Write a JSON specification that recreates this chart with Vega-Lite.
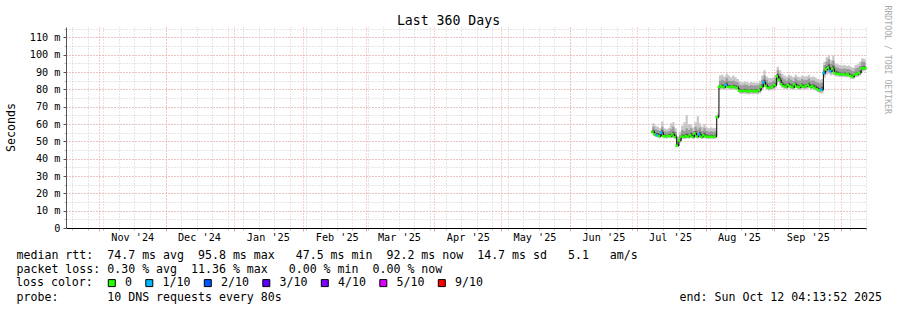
{
  "$schema": "https://vega.github.io/schema/vega-lite/v6.json",
  "width": 800,
  "height": 201,
  "autosize": {"type": "none"},
  "padding": {"left": 66, "top": 27, "right": 31, "bottom": 82},
  "background": "white",
  "config": {
    "view": {"stroke": null},
    "font": "DejaVu Sans Mono",
    "axis": {
      "labelFont": "DejaVu Sans Mono",
      "titleFont": "DejaVu Sans Mono",
      "labelColor": "#000000",
      "titleColor": "#000000",
      "titleFontWeight": "normal",
      "labelFontSize": 10.2,
      "titleFontSize": 11.6
    }
  },
  "resolve": {"axis": {"x": "independent", "y": "independent"}},
  "data": {
    "values": [
      {"t": "2025-07-08", "mn": 53.8, "p2": 54.5, "p4": 55.0, "md": 55.5, "p6": 56.5, "p8": 58.5, "mx": 60.5, "loss": "0"},
      {"t": "2025-07-09", "mn": 52.6, "p2": 53.2, "p4": 53.7, "md": 54.0, "p6": 55.0, "p8": 57.0, "mx": 59.0, "loss": "0"},
      {"t": "2025-07-10", "mn": 52.3, "p2": 52.9, "p4": 53.3, "md": 53.5, "p6": 54.8, "p8": 56.5, "mx": 58.5, "loss": "1/10"},
      {"t": "2025-07-11", "mn": 51.8, "p2": 52.4, "p4": 52.8, "md": 53.0, "p6": 54.2, "p8": 56.0, "mx": 57.5, "loss": "0"},
      {"t": "2025-07-12", "mn": 52.5, "p2": 53.5, "p4": 54.5, "md": 55.0, "p6": 56.5, "p8": 58.5, "mx": 61.5, "loss": "1/10"},
      {"t": "2025-07-13", "mn": 51.8, "p2": 52.4, "p4": 52.8, "md": 53.0, "p6": 54.0, "p8": 55.8, "mx": 57.5, "loss": "0"},
      {"t": "2025-07-14", "mn": 51.6, "p2": 52.2, "p4": 52.6, "md": 52.8, "p6": 53.8, "p8": 55.5, "mx": 57.0, "loss": "0"},
      {"t": "2025-07-15", "mn": 51.9, "p2": 52.5, "p4": 53.0, "md": 53.2, "p6": 54.3, "p8": 56.0, "mx": 57.8, "loss": "0"},
      {"t": "2025-07-16", "mn": 51.8, "p2": 52.4, "p4": 52.8, "md": 53.0, "p6": 54.5, "p8": 57.0, "mx": 60.5, "loss": "0"},
      {"t": "2025-07-17", "mn": 52.3, "p2": 53.0, "p4": 53.6, "md": 54.0, "p6": 55.5, "p8": 58.5, "mx": 61.0, "loss": "0"},
      {"t": "2025-07-18", "mn": 51.2, "p2": 51.9, "p4": 52.3, "md": 52.5, "p6": 53.8, "p8": 55.5, "mx": 57.5, "loss": "0"},
      {"t": "2025-07-19", "mn": 47.0, "p2": 47.2, "p4": 47.4, "md": 47.5, "p6": 48.5, "p8": 50.5, "mx": 53.0, "loss": "0"},
      {"t": "2025-07-20", "mn": 49.0, "p2": 49.8, "p4": 50.2, "md": 50.5, "p6": 51.5, "p8": 53.5, "mx": 55.5, "loss": "0"},
      {"t": "2025-07-21", "mn": 51.5, "p2": 52.2, "p4": 52.6, "md": 52.8, "p6": 54.0, "p8": 56.5, "mx": 59.0, "loss": "0"},
      {"t": "2025-07-22", "mn": 51.4, "p2": 52.0, "p4": 52.4, "md": 52.6, "p6": 53.8, "p8": 56.0, "mx": 61.0, "loss": "0"},
      {"t": "2025-07-23", "mn": 51.7, "p2": 52.3, "p4": 52.8, "md": 53.0, "p6": 54.5, "p8": 57.5, "mx": 65.0, "loss": "0"},
      {"t": "2025-07-24", "mn": 51.5, "p2": 52.1, "p4": 52.5, "md": 52.7, "p6": 54.0, "p8": 56.5, "mx": 60.0, "loss": "0"},
      {"t": "2025-07-25", "mn": 51.9, "p2": 52.7, "p4": 53.2, "md": 53.5, "p6": 55.0, "p8": 57.5, "mx": 59.5, "loss": "0"},
      {"t": "2025-07-26", "mn": 51.4, "p2": 52.0, "p4": 52.4, "md": 52.6, "p6": 53.8, "p8": 55.8, "mx": 58.0, "loss": "0"},
      {"t": "2025-07-27", "mn": 52.2, "p2": 53.2, "p4": 54.0, "md": 54.5, "p6": 56.0, "p8": 58.5, "mx": 61.0, "loss": "0"},
      {"t": "2025-07-28", "mn": 51.5, "p2": 52.2, "p4": 52.6, "md": 52.8, "p6": 54.0, "p8": 57.0, "mx": 64.5, "loss": "0"},
      {"t": "2025-07-29", "mn": 52.0, "p2": 52.8, "p4": 53.6, "md": 54.0, "p6": 55.5, "p8": 58.0, "mx": 60.5, "loss": "1/10"},
      {"t": "2025-07-30", "mn": 51.4, "p2": 52.0, "p4": 52.4, "md": 52.6, "p6": 53.8, "p8": 56.0, "mx": 58.5, "loss": "0"},
      {"t": "2025-07-31", "mn": 51.8, "p2": 52.6, "p4": 53.2, "md": 53.5, "p6": 55.0, "p8": 57.5, "mx": 60.0, "loss": "0"},
      {"t": "2025-08-01", "mn": 51.5, "p2": 52.1, "p4": 52.6, "md": 52.8, "p6": 54.0, "p8": 56.0, "mx": 58.0, "loss": "0"},
      {"t": "2025-08-02", "mn": 51.4, "p2": 52.0, "p4": 52.4, "md": 52.6, "p6": 53.6, "p8": 55.5, "mx": 57.5, "loss": "0"},
      {"t": "2025-08-03", "mn": 51.5, "p2": 52.1, "p4": 52.5, "md": 52.7, "p6": 53.8, "p8": 55.8, "mx": 58.0, "loss": "0"},
      {"t": "2025-08-04", "mn": 51.4, "p2": 52.0, "p4": 52.4, "md": 52.6, "p6": 53.6, "p8": 55.5, "mx": 57.5, "loss": "0"},
      {"t": "2025-08-05", "mn": 51.5, "p2": 52.1, "p4": 52.6, "md": 52.8, "p6": 53.9, "p8": 55.8, "mx": 57.8, "loss": "0"},
      {"t": "2025-08-06", "mn": 63.0, "p2": 63.5, "p4": 63.8, "md": 64.0, "p6": 64.5, "p8": 65.0, "mx": 66.0, "loss": "0"},
      {"t": "2025-08-07", "mn": 80.0, "p2": 80.7, "p4": 81.2, "md": 81.5, "p6": 82.5, "p8": 85.0, "mx": 88.0, "loss": "0"},
      {"t": "2025-08-08", "mn": 80.2, "p2": 81.0, "p4": 81.5, "md": 81.8, "p6": 83.0, "p8": 85.5, "mx": 88.5, "loss": "0"},
      {"t": "2025-08-09", "mn": 79.8, "p2": 80.5, "p4": 81.0, "md": 81.2, "p6": 82.3, "p8": 84.8, "mx": 87.5, "loss": "0"},
      {"t": "2025-08-10", "mn": 80.5, "p2": 81.5, "p4": 82.0, "md": 82.5, "p6": 84.0, "p8": 86.5, "mx": 89.0, "loss": "1/10"},
      {"t": "2025-08-11", "mn": 80.0, "p2": 80.8, "p4": 81.2, "md": 81.5, "p6": 82.5, "p8": 85.0, "mx": 88.0, "loss": "0"},
      {"t": "2025-08-12", "mn": 79.8, "p2": 80.6, "p4": 81.0, "md": 81.3, "p6": 82.3, "p8": 84.8, "mx": 87.0, "loss": "0"},
      {"t": "2025-08-13", "mn": 80.0, "p2": 80.8, "p4": 81.3, "md": 81.6, "p6": 82.6, "p8": 85.0, "mx": 88.0, "loss": "0"},
      {"t": "2025-08-14", "mn": 79.8, "p2": 80.5, "p4": 81.0, "md": 81.2, "p6": 82.2, "p8": 84.5, "mx": 87.0, "loss": "0"},
      {"t": "2025-08-15", "mn": 79.5, "p2": 80.2, "p4": 80.6, "md": 80.8, "p6": 81.8, "p8": 84.0, "mx": 86.0, "loss": "0"},
      {"t": "2025-08-16", "mn": 77.5, "p2": 78.3, "p4": 78.9, "md": 79.2, "p6": 80.2, "p8": 82.5, "mx": 84.5, "loss": "0"},
      {"t": "2025-08-17", "mn": 77.3, "p2": 78.1, "p4": 78.7, "md": 79.0, "p6": 80.0, "p8": 82.3, "mx": 84.0, "loss": "0"},
      {"t": "2025-08-18", "mn": 77.5, "p2": 78.4, "p4": 79.0, "md": 79.3, "p6": 80.3, "p8": 82.8, "mx": 84.5, "loss": "0"},
      {"t": "2025-08-19", "mn": 77.2, "p2": 78.1, "p4": 78.7, "md": 79.0, "p6": 80.0, "p8": 82.5, "mx": 84.3, "loss": "0"},
      {"t": "2025-08-20", "mn": 77.0, "p2": 77.9, "p4": 78.5, "md": 78.8, "p6": 79.8, "p8": 82.0, "mx": 83.8, "loss": "0"},
      {"t": "2025-08-21", "mn": 77.4, "p2": 78.3, "p4": 78.9, "md": 79.2, "p6": 80.2, "p8": 82.5, "mx": 84.2, "loss": "0"},
      {"t": "2025-08-22", "mn": 77.2, "p2": 78.1, "p4": 78.7, "md": 79.0, "p6": 80.0, "p8": 82.3, "mx": 84.0, "loss": "0"},
      {"t": "2025-08-23", "mn": 77.3, "p2": 78.2, "p4": 78.8, "md": 79.1, "p6": 80.1, "p8": 82.4, "mx": 84.0, "loss": "0"},
      {"t": "2025-08-24", "mn": 77.1, "p2": 78.0, "p4": 78.6, "md": 78.9, "p6": 79.9, "p8": 82.2, "mx": 83.8, "loss": "0"},
      {"t": "2025-08-25", "mn": 77.6, "p2": 78.5, "p4": 79.1, "md": 79.5, "p6": 80.5, "p8": 83.0, "mx": 85.0, "loss": "0"},
      {"t": "2025-08-26", "mn": 79.5, "p2": 80.5, "p4": 81.1, "md": 81.5, "p6": 82.8, "p8": 85.5, "mx": 88.0, "loss": "0"},
      {"t": "2025-08-27", "mn": 81.5, "p2": 82.8, "p4": 83.6, "md": 84.0, "p6": 85.5, "p8": 88.0, "mx": 91.0, "loss": "1/10"},
      {"t": "2025-08-28", "mn": 80.3, "p2": 81.2, "p4": 81.7, "md": 82.0, "p6": 83.2, "p8": 85.5, "mx": 87.5, "loss": "0"},
      {"t": "2025-08-29", "mn": 79.3, "p2": 80.0, "p4": 80.5, "md": 80.8, "p6": 81.8, "p8": 84.0, "mx": 86.5, "loss": "0"},
      {"t": "2025-08-30", "mn": 79.5, "p2": 80.2, "p4": 80.7, "md": 81.0, "p6": 82.0, "p8": 84.2, "mx": 86.5, "loss": "0"},
      {"t": "2025-08-31", "mn": 79.8, "p2": 80.6, "p4": 81.2, "md": 81.5, "p6": 82.6, "p8": 85.0, "mx": 87.0, "loss": "0"},
      {"t": "2025-09-01", "mn": 80.5, "p2": 81.5, "p4": 82.1, "md": 82.5, "p6": 83.8, "p8": 86.5, "mx": 88.5, "loss": "0"},
      {"t": "2025-09-02", "mn": 84.0, "p2": 85.5, "p4": 86.8, "md": 87.5, "p6": 89.0, "p8": 91.0, "mx": 93.0, "loss": "0"},
      {"t": "2025-09-03", "mn": 83.0, "p2": 84.2, "p4": 85.0, "md": 85.5, "p6": 87.0, "p8": 89.0, "mx": 91.0, "loss": "0"},
      {"t": "2025-09-04", "mn": 81.0, "p2": 82.0, "p4": 82.6, "md": 83.0, "p6": 84.3, "p8": 86.8, "mx": 89.0, "loss": "0"},
      {"t": "2025-09-05", "mn": 80.3, "p2": 81.1, "p4": 81.6, "md": 82.0, "p6": 83.2, "p8": 85.8, "mx": 88.0, "loss": "0"},
      {"t": "2025-09-06", "mn": 79.9, "p2": 80.7, "p4": 81.1, "md": 81.5, "p6": 82.6, "p8": 85.0, "mx": 87.5, "loss": "0"},
      {"t": "2025-09-07", "mn": 80.6, "p2": 81.5, "p4": 82.1, "md": 82.5, "p6": 83.8, "p8": 86.5, "mx": 88.5, "loss": "0"},
      {"t": "2025-09-08", "mn": 80.1, "p2": 80.9, "p4": 81.4, "md": 81.8, "p6": 83.0, "p8": 85.5, "mx": 87.8, "loss": "0"},
      {"t": "2025-09-09", "mn": 79.6, "p2": 80.4, "p4": 80.9, "md": 81.2, "p6": 82.4, "p8": 84.8, "mx": 87.0, "loss": "0"},
      {"t": "2025-09-10", "mn": 80.8, "p2": 81.8, "p4": 82.4, "md": 82.8, "p6": 84.0, "p8": 86.5, "mx": 88.5, "loss": "0"},
      {"t": "2025-09-11", "mn": 80.0, "p2": 80.8, "p4": 81.2, "md": 81.6, "p6": 82.8, "p8": 85.2, "mx": 87.5, "loss": "0"},
      {"t": "2025-09-12", "mn": 79.6, "p2": 80.4, "p4": 80.9, "md": 81.2, "p6": 82.4, "p8": 85.0, "mx": 87.0, "loss": "0"},
      {"t": "2025-09-13", "mn": 80.4, "p2": 81.3, "p4": 81.8, "md": 82.2, "p6": 83.4, "p8": 86.0, "mx": 88.0, "loss": "0"},
      {"t": "2025-09-14", "mn": 79.9, "p2": 80.7, "p4": 81.1, "md": 81.5, "p6": 82.7, "p8": 85.2, "mx": 87.5, "loss": "0"},
      {"t": "2025-09-15", "mn": 80.1, "p2": 80.9, "p4": 81.4, "md": 81.8, "p6": 83.0, "p8": 85.4, "mx": 87.6, "loss": "0"},
      {"t": "2025-09-16", "mn": 80.6, "p2": 81.5, "p4": 82.1, "md": 82.5, "p6": 83.8, "p8": 86.3, "mx": 88.3, "loss": "0"},
      {"t": "2025-09-17", "mn": 79.8, "p2": 80.6, "p4": 81.0, "md": 81.4, "p6": 82.6, "p8": 85.0, "mx": 87.2, "loss": "0"},
      {"t": "2025-09-18", "mn": 80.1, "p2": 80.9, "p4": 81.4, "md": 81.8, "p6": 83.0, "p8": 85.3, "mx": 87.5, "loss": "0"},
      {"t": "2025-09-19", "mn": 79.4, "p2": 80.2, "p4": 80.7, "md": 81.0, "p6": 82.2, "p8": 84.6, "mx": 86.8, "loss": "0"},
      {"t": "2025-09-20", "mn": 78.5, "p2": 79.3, "p4": 79.8, "md": 80.2, "p6": 81.5, "p8": 84.0, "mx": 86.0, "loss": "0"},
      {"t": "2025-09-21", "mn": 77.8, "p2": 78.6, "p4": 79.1, "md": 79.5, "p6": 80.8, "p8": 83.5, "mx": 85.5, "loss": "0"},
      {"t": "2025-09-22", "mn": 77.6, "p2": 78.8, "p4": 79.4, "md": 79.8, "p6": 81.5, "p8": 84.0, "mx": 86.0, "loss": "1/10"},
      {"t": "2025-09-23", "mn": 86.5, "p2": 88.0, "p4": 89.0, "md": 89.5, "p6": 91.5, "p8": 94.0, "mx": 96.0, "loss": "1/10"},
      {"t": "2025-09-24", "mn": 88.5, "p2": 90.0, "p4": 91.0, "md": 91.5, "p6": 93.5, "p8": 96.0, "mx": 98.5, "loss": "0"},
      {"t": "2025-09-25", "mn": 89.0, "p2": 90.8, "p4": 91.8, "md": 92.5, "p6": 94.5, "p8": 97.5, "mx": 99.8, "loss": "0"},
      {"t": "2025-09-26", "mn": 88.0, "p2": 89.3, "p4": 90.0, "md": 90.5, "p6": 92.5, "p8": 95.0, "mx": 97.0, "loss": "1/10"},
      {"t": "2025-09-27", "mn": 88.5, "p2": 90.0, "p4": 91.2, "md": 91.8, "p6": 93.8, "p8": 96.5, "mx": 99.5, "loss": "0"},
      {"t": "2025-09-28", "mn": 87.6, "p2": 88.5, "p4": 89.1, "md": 89.5, "p6": 90.8, "p8": 93.0, "mx": 95.0, "loss": "0"},
      {"t": "2025-09-29", "mn": 87.5, "p2": 88.3, "p4": 88.8, "md": 89.0, "p6": 90.3, "p8": 92.5, "mx": 94.5, "loss": "0"},
      {"t": "2025-09-30", "mn": 87.2, "p2": 88.0, "p4": 88.5, "md": 88.8, "p6": 89.8, "p8": 92.0, "mx": 94.0, "loss": "0"},
      {"t": "2025-10-01", "mn": 87.0, "p2": 87.8, "p4": 88.3, "md": 88.6, "p6": 89.6, "p8": 91.8, "mx": 93.8, "loss": "0"},
      {"t": "2025-10-02", "mn": 87.2, "p2": 88.0, "p4": 88.5, "md": 88.8, "p6": 89.8, "p8": 92.0, "mx": 94.0, "loss": "0"},
      {"t": "2025-10-03", "mn": 86.9, "p2": 87.7, "p4": 88.2, "md": 88.5, "p6": 89.5, "p8": 91.8, "mx": 93.5, "loss": "0"},
      {"t": "2025-10-04", "mn": 87.0, "p2": 87.8, "p4": 88.3, "md": 88.6, "p6": 89.6, "p8": 91.8, "mx": 93.8, "loss": "0"},
      {"t": "2025-10-05", "mn": 86.2, "p2": 87.0, "p4": 87.5, "md": 87.8, "p6": 88.8, "p8": 91.0, "mx": 93.0, "loss": "0"},
      {"t": "2025-10-06", "mn": 85.8, "p2": 86.5, "p4": 87.0, "md": 87.3, "p6": 88.3, "p8": 90.5, "mx": 92.5, "loss": "0"},
      {"t": "2025-10-07", "mn": 87.0, "p2": 87.8, "p4": 88.3, "md": 88.6, "p6": 89.6, "p8": 92.0, "mx": 94.0, "loss": "0"},
      {"t": "2025-10-08", "mn": 87.2, "p2": 88.0, "p4": 88.5, "md": 88.8, "p6": 89.8, "p8": 92.5, "mx": 94.5, "loss": "0"},
      {"t": "2025-10-09", "mn": 87.8, "p2": 88.6, "p4": 89.2, "md": 89.5, "p6": 90.6, "p8": 93.5, "mx": 96.0, "loss": "0"},
      {"t": "2025-10-10", "mn": 90.2, "p2": 91.0, "p4": 91.6, "md": 92.0, "p6": 93.2, "p8": 96.0, "mx": 97.9, "loss": "0"},
      {"t": "2025-10-11", "mn": 90.5, "p2": 91.3, "p4": 91.8, "md": 92.2, "p6": 93.4, "p8": 95.8, "mx": 97.5, "loss": "0"},
      {"t": "2025-10-12", "mn": 90.5, "p2": 91.3, "p4": 91.8, "md": 92.2, "p6": 93.4, "p8": 95.8, "mx": 97.5, "loss": "0"}
    ]
  },
  "layer": [
    {
      "mark": {"type": "area", "interpolate": "step-after", "color": "#c8c8c8"},
      "encoding": {
        "x": {
          "field": "t", "type": "temporal",
          "scale": {"type": "utc", "domain": [
            {"year": 2024, "month": 10, "date": 17, "hours": 4, "minutes": 13, "seconds": 52, "utc": true},
            {"year": 2025, "month": 10, "date": 12, "hours": 4, "minutes": 13, "seconds": 52, "utc": true}
          ]},
          "axis": {
            "orient": "bottom",
            "tickCount": {"interval": "week", "step": 1},
            "labels": false, "domain": false,
            "ticks": true, "tickSize": 2, "tickColor": "#bbbbbb",
            "grid": true, "gridColor": "#cccccc", "gridDash": [1, 2],
            "title": "probe:\u00a0\u00a0\u00a0\u00a0\u00a0\u00a0\u00a010 DNS requests every 80s\u00a0\u00a0\u00a0\u00a0\u00a0\u00a0\u00a0\u00a0\u00a0\u00a0\u00a0\u00a0\u00a0\u00a0\u00a0\u00a0\u00a0\u00a0\u00a0\u00a0\u00a0\u00a0\u00a0\u00a0\u00a0\u00a0\u00a0\u00a0\u00a0\u00a0\u00a0\u00a0\u00a0\u00a0\u00a0\u00a0\u00a0\u00a0\u00a0\u00a0\u00a0\u00a0\u00a0\u00a0\u00a0\u00a0\u00a0\u00a0\u00a0\u00a0\u00a0\u00a0\u00a0\u00a0\u00a0\u00a0\u00a0end: Sun Oct 12 04:13:52 2025",
            "titleX": -50, "titleY": 72, "titleAlign": "left", "titleBaseline": "alphabetic", "titleAngle": 0
          }
        },
        "y": {
          "field": "mn", "type": "quantitative",
          "scale": {"domain": [0, 116], "nice": false, "zero": true},
          "axis": {
            "orient": "left",
            "values": [0, 5, 10, 15, 20, 25, 30, 35, 40, 45, 50, 55, 60, 65, 70, 75, 80, 85, 90, 95, 100, 105, 110, 115],
            "labels": false, "domain": false,
            "ticks": true, "tickSize": 2, "tickColor": "#bbbbbb",
            "grid": true, "gridColor": "#cccccc", "gridDash": [1, 2],
            "title": null
          }
        },
        "y2": {"field": "mx"}
      }
    },
    {
      "mark": {"type": "area", "interpolate": "step-after", "color": "#9c9c9c"},
      "encoding": {
        "x": {
          "field": "t", "type": "temporal",
          "axis": {
            "orient": "bottom",
            "tickCount": {"interval": "month", "step": 1},
            "labels": false, "domain": false,
            "ticks": true, "tickSize": 3, "tickColor": "#f0a0a0",
            "grid": true, "gridColor": "#f0a0a0", "gridDash": [1, 2],
            "title": [
              "median rtt:\u00a0\u00a074.7 ms avg\u00a0\u00a095.8 ms max\u00a0\u00a0\u00a047.5 ms min\u00a0\u00a092.2 ms now\u00a0\u00a014.7 ms sd\u00a0\u00a0\u00a05.1\u00a0\u00a0\u00a0am/s",
              "packet loss: 0.30 % avg\u00a0\u00a011.36 % max\u00a0\u00a0\u00a00.00 % min\u00a0\u00a00.00 % now"
            ],
            "titleX": -50, "titleY": 30, "titleAlign": "left", "titleBaseline": "alphabetic", "titleAngle": 0, "titleLineHeight": 14
          }
        },
        "y": {
          "field": "p2", "type": "quantitative",
          "axis": {
            "orient": "left",
            "values": [0, 10, 20, 30, 40, 50, 60, 70, 80, 90, 100, 110],
            "labelExpr": "datum.value == 0 ? '0' : datum.value + ' m'",
            "labelPadding": 3, "labelFlush": false,
            "domain": true, "domainColor": "#555555",
            "ticks": true, "tickSize": 3, "tickColor": "#555555",
            "grid": true, "gridColor": "#f0a0a0", "gridDash": [1, 2],
            "title": "Seconds", "titleX": -55, "titleY": 100, "titleAngle": -90,
            "titleAlign": "center", "titleBaseline": "middle"
          }
        },
        "y2": {"field": "p8"}
      }
    },
    {
      "mark": {"type": "area", "interpolate": "step-after", "color": "#5a5a5a"},
      "encoding": {
        "x": {
          "field": "t", "type": "temporal",
          "axis": {
            "orient": "bottom",
            "values": [
              {"year": 2024, "month": 11, "date": 16, "utc": true},
              {"year": 2024, "month": 12, "date": 16, "utc": true},
              {"year": 2025, "month": 1, "date": 16, "utc": true},
              {"year": 2025, "month": 2, "date": 16, "utc": true},
              {"year": 2025, "month": 3, "date": 16, "utc": true},
              {"year": 2025, "month": 4, "date": 16, "utc": true},
              {"year": 2025, "month": 5, "date": 16, "utc": true},
              {"year": 2025, "month": 6, "date": 16, "utc": true},
              {"year": 2025, "month": 7, "date": 16, "utc": true},
              {"year": 2025, "month": 8, "date": 16, "utc": true},
              {"year": 2025, "month": 9, "date": 16, "utc": true}
            ],
            "labelExpr": "utcFormat(datum.value, \"%b '%y\")",
            "labelPadding": 4.5, "labelFlush": false, "labelOverlap": false, "labelBound": false,
            "ticks": false, "grid": false,
            "domain": true, "domainColor": "#000000", "domainWidth": 1,
            "title": null
          }
        },
        "y": {
          "field": "p4", "type": "quantitative",
          "axis": {
            "orient": "right",
            "labels": false, "ticks": false, "grid": false, "domain": false,
            "title": "RRDTOOL / TOBI OETIKER",
            "titleFontSize": 8.2, "titleColor": "#aaaaaa",
            "titleAngle": 90, "titleX": 20, "titleY": -22,
            "titleAlign": "left", "titleBaseline": "middle"
          }
        },
        "y2": {"field": "p6"}
      }
    },
    {
      "mark": {"type": "line", "interpolate": "step-after", "color": "#000000", "strokeWidth": 1},
      "encoding": {
        "x": {
          "field": "t", "type": "temporal",
          "axis": {
            "orient": "top",
            "labels": false, "ticks": false, "grid": false, "domain": false,
            "title": "Last 360 Days", "titleFontSize": 13.2,
            "titleX": 382, "titleY": -3, "titleAlign": "center", "titleBaseline": "alphabetic", "titleAngle": 0
          }
        },
        "y": {"field": "md", "type": "quantitative", "axis": null}
      }
    },
    {
      "mark": {"type": "tick", "orient": "horizontal", "thickness": 2.5, "size": 2.6, "opacity": 1},
      "encoding": {
        "x": {"field": "t", "type": "temporal", "axis": null},
        "y": {"field": "md", "type": "quantitative", "axis": null},
        "color": {
          "field": "loss", "type": "nominal",
          "scale": {
            "domain": ["0", "1/10", "2/10", "3/10", "4/10", "5/10", "9/10"],
            "range": ["#26ff00", "#00b8ff", "#0059ff", "#5e00ff", "#7e00ff", "#dd00ff", "#ff0000"]
          },
          "legend": {
            "title": "loss color:",
            "orient": "none", "legendX": -50, "legendY": 250,
            "direction": "horizontal",
            "titleOrient": "left", "titleAnchor": "middle", "titleBaseline": "middle",
            "titlePadding": 13,
            "titleFont": "DejaVu Sans Mono", "titleFontSize": 11.6, "titleFontWeight": "normal", "titleColor": "#000000",
            "labelFont": "DejaVu Sans Mono", "labelFontSize": 11.6, "labelColor": "#000000",
            "labelOffset": 7.5, "columnPadding": 10.5,
            "symbolType": "square", "symbolSize": 49,
            "symbolStrokeColor": "#000000", "symbolStrokeWidth": 1, "symbolOpacity": 1,
            "padding": 0
          }
        }
      }
    }
  ]
}
